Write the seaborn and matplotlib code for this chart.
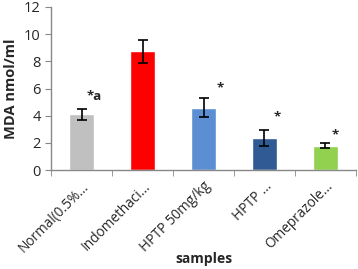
import numpy as np
import pandas as pd
import matplotlib
matplotlib.use("Agg")
import matplotlib.pyplot as plt
import seaborn as sns

# values
samples = ["Normal(0.5%...", "Indomethaci...", "HPTP 50mg/kg", "HPTP ...", "Omeprazole..."]
mda = [4.1, 8.75, 4.6, 2.35, 1.8]
err = [0.4, 0.85, 0.7, 0.6, 0.2]
marks = ["*a", "", "*", "*", "*"]
colors = ["#C0C0C0", "#FF0000", "#5B8ED2", "#2F5A94", "#92D050"]

df = pd.DataFrame({"samples": samples, "mda": mda})

sns.set_style("white")
plt.rcParams["font.family"] = ["Open Sans", "DejaVu Sans"]

fig = plt.figure(figsize=(3.58, 2.69), dpi=100)
ax = fig.add_axes([0.143, 0.368, 0.851, 0.606])

sns.barplot(data=df, x="samples", y="mda", hue="samples", palette=colors,
            saturation=1, legend=False, width=0.41, ax=ax)
ax.errorbar(np.arange(len(samples)), mda, yerr=err, fmt="none",
            ecolor="black", elinewidth=1.2, capsize=3.5, capthick=1.2)

# significance marks
offs = [(0.08, 0.9), None, (0.22, 0.75), (0.15, 0.95), (0.1, 0.6)]
for i, m in enumerate(marks):
    if m:
        dx, dy = offs[i]
        ax.text(i + dx, mda[i] + err[i] + dy, m, ha="left", va="center",
                fontsize=9.5, fontweight="bold")

ax.set_ylim(0, 12)
ax.set_xlim(-0.5, 4.5)
ax.set_yticks(range(0, 13, 2))
ax.set_xticks(np.arange(len(samples)))
ax.set_xticklabels(samples, rotation=45, ha="right", rotation_mode="anchor",
                   fontsize=9.8)
ax.tick_params(axis="y", labelsize=10.5, left=True, length=4, color="#888888")
ax.tick_params(axis="x", bottom=False, pad=3)
# category boundary ticks
ax.set_xticks(np.arange(-0.5, 5, 1), minor=True)
ax.tick_params(axis="x", which="minor", bottom=True, length=4, color="#888888")

ax.set_xlabel("samples", fontsize=10, fontweight="bold")
ax.xaxis.set_label_coords(0.5, -0.50)
ax.set_ylabel("MDA nmol/ml", fontsize=10.5, fontweight="bold", labelpad=4)

for s in ["top", "right"]:
    ax.spines[s].set_visible(False)
for s in ["left", "bottom"]:
    ax.spines[s].set_color("#888888")
    ax.spines[s].set_linewidth(1)

fig.savefig("out.png", dpi=100)
